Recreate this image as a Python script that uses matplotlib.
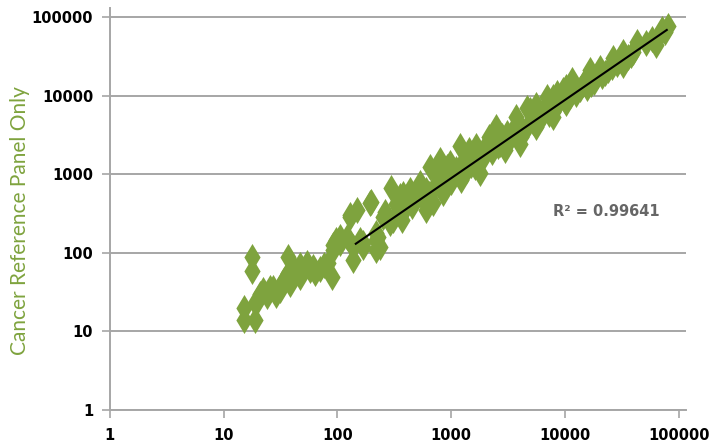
import matplotlib
matplotlib.use("Agg")
import matplotlib.pyplot as plt
from matplotlib.ticker import FixedLocator, FixedFormatter, NullLocator

# scatter values (x = reference, y = cancer panel only)
x_vals = [
    15, 15, 18.8, 18.8, 17.6, 17.6, 20, 21, 22, 24, 25.5, 27, 29, 31, 33, 34,
    36.6, 36.6, 38, 40.5, 43, 46.5, 46.5, 48, 53.6, 57, 61, 63, 70, 76,
    82, 89, 91, 91, 98, 105, 105, 121, 129, 129, 137, 137, 148, 157, 167,
    167, 192, 199, 220, 220, 220, 226, 237, 250, 288, 298, 353, 366, 433,
    527, 605, 605, 650, 690, 745, 795, 840, 880, 910, 970, 1220, 1190,
    1260, 1440, 1610, 1660, 1780, 2170, 2500, 3000, 3700, 4000, 4600, 4900,
    5600, 5600, 6900, 7800, 7800, 7800, 8500, 9600, 10300, 10300, 11600,
    15600, 15600, 16500, 20300, 26500, 32600, 32600, 40000, 43200, 58400,
    63000, 72000, 80000,
    # fill of the dense band
    260, 310, 330, 400, 470, 560, 720, 1000, 1100, 1350, 1500, 1900, 2000,
    2300, 2700, 2800, 3300, 3500, 4300, 5200, 6200, 6500, 7300, 9000, 11000,
    12500, 13500, 14500, 18000, 19000, 22500, 24000, 28500, 30000, 36000,
    52000, 67000, 76000, 380, 450, 500, 640, 760, 1300, 1700, 2600, 3100,
    4100, 4700, 6000, 8200, 10000, 17000, 21000, 26000, 38000,
]
y_vals = [
    20, 14, 14, 23, 89, 58, 25, 30, 33.6, 28, 35.5, 36, 29, 34, 42.5, 45,
    55, 88, 40, 66, 58, 70, 49, 62, 74, 60, 66, 55, 62, 70,
    74, 49, 108, 126, 145, 133, 160, 160, 288, 302, 81, 118, 350, 145, 118,
    133, 430, 446, 108, 178, 145, 160, 119, 288, 240, 660, 520, 262, 630,
    770, 350, 630, 1250, 430, 1250, 1500, 575, 850, 1250, 1380, 850, 2250,
    1380, 2000, 1250, 2250, 1040, 3000, 4000, 2000, 5350, 2450, 6950, 6500,
    4000, 7600, 9700, 5350, 9700, 6250, 10700, 11700, 13000, 8000, 15700,
    16500, 12500, 21000, 22300, 30000, 36000, 24500, 36000, 48000, 53000,
    44000, 71000, 78000,
    # fill of the dense band
    330, 260, 420, 380, 520, 480, 700, 800, 1150, 1100, 1300, 1600, 2200,
    1900, 2400, 3100, 2800, 3600, 3500, 4600, 5200, 6400, 5800, 8800, 10000,
    10500, 12000, 14000, 15000, 18000, 19500, 21000, 25000, 28000, 31000,
    47000, 57000, 64000, 560, 390, 600, 560, 900, 1500, 1500, 2300, 3300,
    3000, 4200, 5600, 7200, 8500, 14000, 17500, 23000, 33000,
]

# power trendline endpoints as drawn
trend_x = [145, 78500]
trend_y = [130, 68400]
r2_label = "R² = 0.99641"

tick_vals = [1, 10, 100, 1000, 10000, 100000]
tick_labels = ["1", "10", "100", "1000", "10000", "100000"]

green = "#7ea33e"
grid_gray = "#a6a6a6"

fig = plt.figure(figsize=(7.28, 4.44), dpi=100)
ax = fig.add_axes([0.151, 0.077, 0.791, 0.905])

ax.scatter(x_vals, y_vals, marker="d", s=190, color=green, linewidths=0,
           zorder=3)
ax.plot(trend_x, trend_y, color="black", linewidth=1.5, zorder=4)

ax.set_xscale("log")
ax.set_yscale("log")
ax.set_xlim(1, 10 ** 5.062)
ax.set_ylim(1, 10 ** 5.115)

for axis in (ax.xaxis, ax.yaxis):
    axis.set_major_locator(FixedLocator(tick_vals))
    axis.set_major_formatter(FixedFormatter(tick_labels))
    axis.set_minor_locator(NullLocator())

ax.yaxis.grid(True, color=grid_gray, linewidth=1.4)
ax.set_axisbelow(True)

for side in ("top", "right"):
    ax.spines[side].set_visible(False)
for side in ("left", "bottom"):
    ax.spines[side].set_color(grid_gray)
    ax.spines[side].set_linewidth(1.4)

ax.tick_params(axis="both", length=6, width=1.2, color=grid_gray,
               labelsize=10.5, pad=6)
for lab in ax.get_xticklabels() + ax.get_yticklabels():
    lab.set_fontweight("bold")
    lab.set_fontfamily("DejaVu Sans")
ax.tick_params(axis="x", pad=7)

ax.set_ylabel("Cancer Reference Panel Only", color=green, fontsize=15,
              fontfamily="Lato")
ax.yaxis.set_label_coords(-0.138, 0.47)

ax.text(0.769, 0.4925, r2_label, transform=ax.transAxes, fontsize=10.5,
        fontweight="bold", color="#666666", fontfamily="DejaVu Sans",
        va="center")

fig.savefig("out.png", dpi=100)
